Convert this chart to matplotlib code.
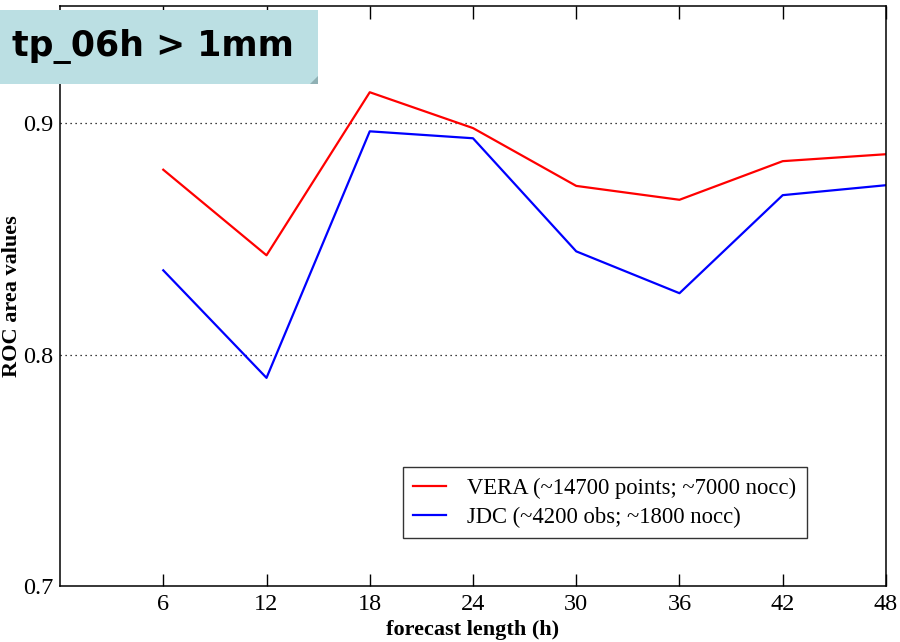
import matplotlib
matplotlib.use("Agg")
import matplotlib.pyplot as plt
from matplotlib.patches import Rectangle, Polygon

# Data
hours = [6, 12, 18, 24, 30, 36, 42, 48]
vera = [0.880, 0.843, 0.9135, 0.898, 0.873, 0.867, 0.8837, 0.8867]
jdc = [0.8365, 0.790, 0.8966, 0.8936, 0.8447, 0.8266, 0.869, 0.8733]
x_ticks = [6, 12, 18, 24, 30, 36, 42, 48]
y_ticks = [0.7, 0.8, 0.9]

plt.rcParams["font.family"] = ["Liberation Serif", "DejaVu Serif"]

fig = plt.figure(figsize=(9, 6.42), dpi=100)
ax = fig.add_axes([0.0667, 0.0872, 0.9177, 0.9035])

ax.plot(hours, vera, color="#ff0000", lw=1.6,
        label="VERA (~14700 points; ~7000 nocc)")
ax.plot(hours, jdc, color="#0000ff", lw=1.6,
        label="JDC (~4200 obs; ~1800 nocc)")

for y in [0.8, 0.9]:
    ax.axhline(y, color="black", lw=0.9, ls=(0, (1, 3)), zorder=0)

ax.set_xlim(0, 48)
ax.set_ylim(0.7, 0.9508)
ax.set_xticks(x_ticks)
ax.set_xticklabels([str(t) for t in x_ticks])
ax.set_yticks(y_ticks)
ax.set_yticklabels(["0.7", "0.8", "0.9"])
ax.tick_params(axis="x", direction="in", length=9, width=1, labelsize=17.5,
               top=True, pad=6)
ax.tick_params(axis="y", length=0, labelsize=17.5, pad=5)
for s in ax.spines.values():
    s.set_linewidth(1.1)

ax.set_xlabel("forecast length (h)", fontsize=16, fontweight="bold")
ax.xaxis.set_label_coords(0.5, -0.058)
ax.set_ylabel("ROC area values", fontsize=16, fontweight="bold")
ax.yaxis.set_label_coords(-0.046, 0.5)

leg = ax.legend(loc="lower left", bbox_to_anchor=(0.415, 0.083), fontsize=16.3,
                frameon=True, fancybox=False, edgecolor="black",
                borderaxespad=0, handlelength=1.45, handletextpad=0.95,
                borderpad=0.45, labelspacing=0.35)
leg.get_frame().set_linewidth(1.0)

# title banner in the top-left corner
fig.patches.append(Rectangle((0, 1 - 84 / 642), 318 / 900, 74 / 642,
                             transform=fig.transFigure, facecolor="#bbdfe3",
                             edgecolor="none", zorder=5))
fig.patches.append(Polygon([(310 / 900, 1 - 84 / 642), (318 / 900, 1 - 76 / 642),
                            (318 / 900, 1 - 84 / 642)],
                           transform=fig.transFigure, facecolor="#8fb0b4",
                           edgecolor="none", zorder=6))
fig.text(12 / 900, 1 - 46 / 642, "tp_06h > 1mm", fontsize=25, fontweight="bold",
         family="DejaVu Sans", va="center", ha="left", zorder=7)

fig.savefig("out.png", dpi=100)
